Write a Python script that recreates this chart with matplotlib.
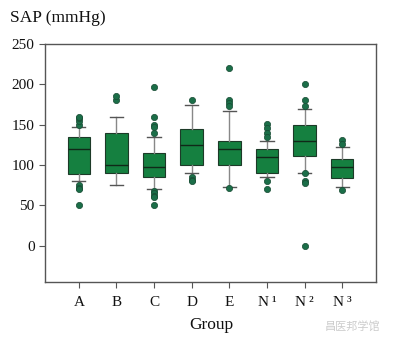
import matplotlib
matplotlib.use("Agg")
import matplotlib.pyplot as plt

groups = ["A", "B", "C", "D", "E", "N\u2009\u00b9", "N\u2009\u00b2", "N\u2009\u00b3"]
q1 = [89, 90, 85, 100, 100, 90, 111, 84]
med = [120, 100, 98, 125, 120, 110, 130, 98]
q3 = [135, 140, 115, 145, 130, 120, 150, 107]
whislo = [80, 75, 70, 90, 73, 85, 90, 73]
whishi = [147, 160, 135, 175, 167, 130, 170, 122]
fliers = [
    [150, 155, 158, 160, 75, 72, 70, 50],
    [180, 185],
    [197, 160, 150, 147, 140, 68, 65, 62, 60, 50],
    [180, 85, 82, 80],
    [220, 180, 177, 173, 72],
    [151, 146, 140, 135, 80, 70],
    [200, 180, 173, 90, 80, 78, 0],
    [131, 126, 69],
]

plt.rcParams['font.family'] = ['Liberation Serif', 'Noto Sans CJK SC', 'DejaVu Sans']

fig = plt.figure(figsize=(3.97, 3.40), dpi=100)
ax = fig.add_axes([45/397, 1-282/340, (376-45)/397, (282-44)/340])

stats = []
for i, g in enumerate(groups):
    stats.append(dict(label=g, q1=q1[i], med=med[i], q3=q3[i],
                      whislo=whislo[i], whishi=whishi[i], fliers=fliers[i]))

box_fill = '#158040'
ax.bxp(stats, positions=range(len(groups)), widths=0.6, capwidths=0.35,
       patch_artist=True, showfliers=True,
       boxprops=dict(facecolor=box_fill, edgecolor='#1d3a28', linewidth=0.8),
       medianprops=dict(color='#102818', linewidth=1.0),
       whiskerprops=dict(color='#888888', linewidth=1.0),
       capprops=dict(color='#555555', linewidth=1.0),
       flierprops=dict(marker='o', markerfacecolor='#1b6e48', markeredgecolor='#174a32',
                       markeredgewidth=0.5, markersize=4.5, linestyle='none'))

ax.set_xlim(-0.9, 7.9)
ax.set_ylim(-45, 250)
ax.set_yticks([0, 50, 100, 150, 200, 250])
ax.set_xticks(range(len(groups)))
ax.set_xticklabels(groups)
for s in ax.spines.values():
    s.set_color('#555555')
    s.set_linewidth(1.0)
ax.tick_params(axis='both', colors='#555555', labelcolor='#111111', labelsize=11, length=4)
ax.tick_params(axis='x', pad=6)

fig.text(10/397, 1-18/340, "SAP (mmHg)", fontsize=12.5, ha='left', va='center', color='#111111')
fig.text(211/397, 1-325/340, "Group", fontsize=12.5, ha='center', va='center', color='#111111')
fig.text(325/397, 1-326/340, "昌医邦学馆", fontsize=8, ha='left', va='center', color='#cccccc',
         family=['Noto Sans CJK SC'])

fig.savefig("out.png", dpi=100)
